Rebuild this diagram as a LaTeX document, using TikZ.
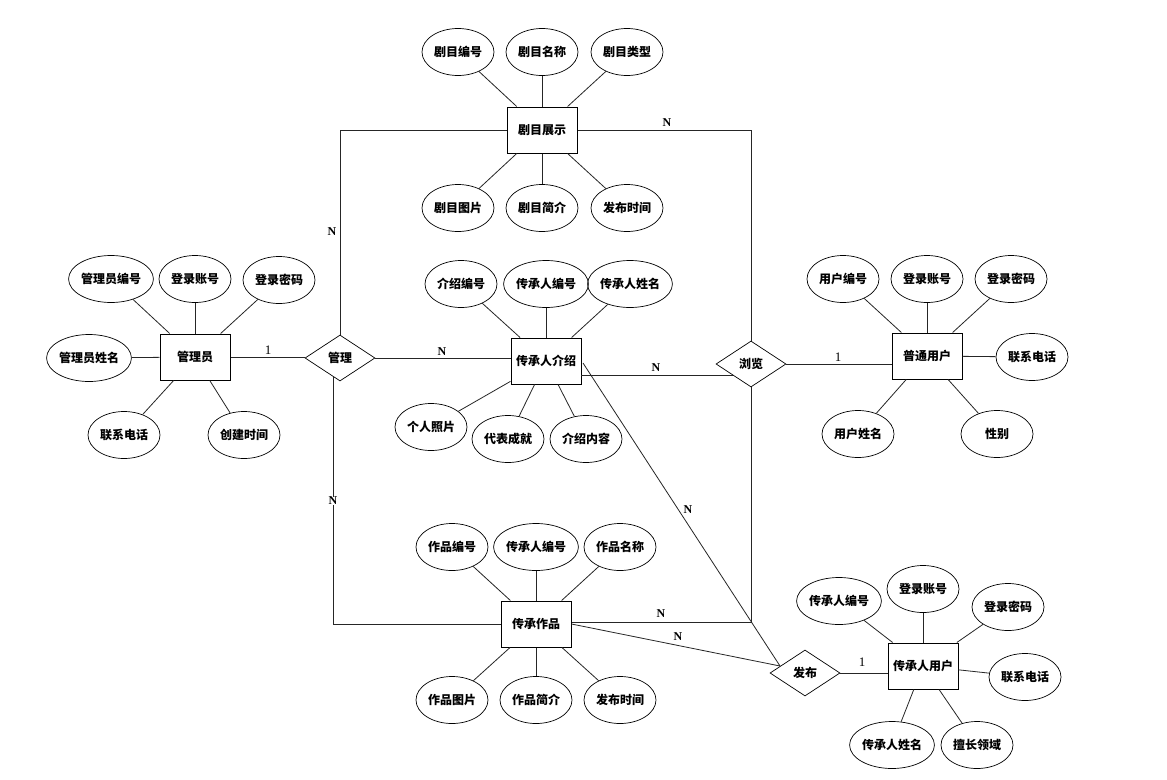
\documentclass[tikz,border=0pt]{standalone}
\usepackage{fontspec}
\newfontfamily\cjk{Noto Sans CJK SC}
\newfontfamily\lat{Liberation Serif}
\usetikzlibrary{shapes.geometric}
\tikzset{
  every node/.style={font=\cjk\bfseries\fontsize{12}{14}\selectfont},
  ent/.style={draw, line width=1pt, rectangle, minimum width=70pt, minimum height=46pt, inner sep=0pt},
  attr/.style={draw, line width=0.7pt, ellipse, minimum width=72pt, minimum height=47pt, inner sep=0pt},
  rel/.style={draw, line width=0.7pt, diamond, minimum width=70pt, minimum height=46pt, inner sep=0pt},
  lnk/.style={draw=black!85, line width=0.8pt},
  lbl/.style={fill=white, inner sep=0.5pt, font=\lat\bfseries\fontsize{12}{13}\selectfont},
  one/.style={fill=white, inner sep=0.5pt, font=\lat\fontsize{13}{14}\selectfont},
}
\begin{document}
\begin{tikzpicture}[x=1pt,y=-1pt]
\useasboundingbox[fill=white] (0,0) rectangle (1167,779);

% ---- 剧目展示 ----
\node[ent] (jm) at (542,130) {剧目展示};
\node[attr] (jm1) at (458,52) {剧目编号};
\node[attr] (jm2) at (542,52) {剧目名称};
\node[attr] (jm3) at (627,52) {剧目类型};
\node[attr] (jm4) at (458,208) {剧目图片};
\node[attr] (jm5) at (542,208) {剧目简介};
\node[attr] (jm6) at (627,208) {发布时间};
\foreach \a in {jm1,jm2,jm3,jm4,jm5,jm6} \draw[lnk] (\a) -- (jm);

% ---- 管理员 ----
\node[ent] (gly) at (195,357) {管理员};
\node[attr] (g1) at (111,279) {管理员编号};
\node[attr] (g2) at (195,279) {登录账号};
\node[attr] (g3) at (279,280) {登录密码};
\node[attr] (g4) at (89,358) {管理员姓名};
\node[attr] (g5) at (124,435) {联系电话};
\node[attr] (g6) at (244,435) {创建时间};
\foreach \a in {g1,g2,g3,g4,g5,g6} \draw[lnk] (\a) -- (gly);

% ---- 传承人介绍 ----
\node[ent] (zjs) at (546,361) {传承人介绍};
\node[attr] (z1) at (461,284) {介绍编号};
\node[attr] (z2) at (546,284) {传承人编号};
\node[attr] (z3) at (630,284) {传承人姓名};
\node[attr] (z4) at (431,427) {个人照片};
\node[attr] (z5) at (508,439) {代表成就};
\node[attr] (z6) at (586,439) {介绍内容};
\foreach \a in {z1,z2,z3,z4,z5,z6} \draw[lnk] (\a) -- (zjs);

% ---- 普通用户 ----
\node[ent] (pt) at (927,356) {普通用户};
\node[attr] (p1) at (843,279) {用户编号};
\node[attr] (p2) at (927,279) {登录账号};
\node[attr] (p3) at (1011,279) {登录密码};
\node[attr] (p4) at (1032,357) {联系电话};
\node[attr] (p5) at (858,434) {用户姓名};
\node[attr] (p6) at (997,434) {性别};
\foreach \a in {p1,p2,p3,p4,p5,p6} \draw[lnk] (\a) -- (pt);

% ---- 传承作品 ----
\node[ent] (zp) at (536,624) {传承作品};
\node[attr] (w1) at (452,547) {作品编号};
\node[attr] (w2) at (536,547) {传承人编号};
\node[attr] (w3) at (620,547) {作品名称};
\node[attr] (w4) at (452,700) {作品图片};
\node[attr] (w5) at (536,700) {作品简介};
\node[attr] (w6) at (620,700) {发布时间};
\foreach \a in {w1,w2,w3,w4,w5,w6} \draw[lnk] (\a) -- (zp);

% ---- 传承人用户 ----
\node[ent] (cu) at (923,666) {传承人用户};
\node[attr] (c1) at (839,601) {传承人编号};
\node[attr] (c2) at (923,589) {登录账号};
\node[attr] (c3) at (1008,607) {登录密码};
\node[attr] (c4) at (1025,677) {联系电话};
\node[attr] (c5) at (892,745) {传承人姓名};
\node[attr] (c6) at (977,745) {擅长领域};
\foreach \a in {c1,c2,c3,c4,c5,c6} \draw[lnk] (\a) -- (cu);

% ---- relationships ----
\node[rel] (gl) at (340,358) {管理};
\node[rel] (ll) at (751,364) {浏览};
\node[rel] (fb) at (805,673) {发布};

\coordinate (glb) at (333,376);
\coordinate (zjsr) at (581,375);
\coordinate (llw) at (733,375);
\coordinate (zjsd) at (583,363);
\coordinate (fbt) at (780,666);

\draw[lnk] (gly.east) -- (gly.east -| gl.west);
\draw[lnk] (gl.east) -- (gl.east -| zjs.west);
\draw[lnk] (jm.west) -- (jm.west -| gl.north) -- (gl.north);
\draw[lnk] (glb) -- (glb |- zp.west) -- (zp.west);
\draw[lnk] (jm.east) -- (jm.east -| ll.north) -- (ll.north);
\draw[lnk] (zjsr) -- (llw);
\draw[lnk] (ll.east) -- (ll.east -| pt.west);
\draw[lnk] ([yshift=2pt]zp.east) -- ([yshift=2pt]zp.east -| ll.south) -- (ll.south);
\draw[lnk] (zp.east) -- (fbt);
\draw[lnk] (zjsd) -- (fbt);
\draw[lnk] (fb.east) -- (fb.east -| cu.west);

% ---- cardinalities ----
\node[one] (k1) at (268,350) {1};
\node[lbl] (k2) at (442,352) {N};
\node[lbl] (k3) at (332,232) {N};
\node[lbl] (k4) at (333,501) {N};
\node[lbl] (k5) at (667,123) {N};
\node[lbl] (k6) at (656,368) {N};
\node[one] (k7) at (838,357) {1};
\node[lbl] (k8) at (661,614) {N};
\node[lbl] (k9) at (678,637) {N};
\node[lbl] (k10) at (688,510) {N};
\node[one] (k11) at (862,662) {1};
\end{tikzpicture}
\end{document}
